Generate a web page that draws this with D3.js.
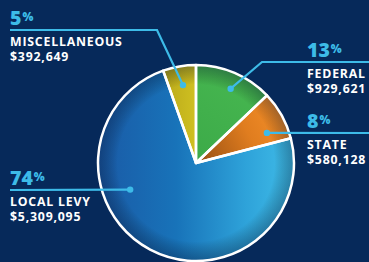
<!DOCTYPE html>
<html>
<head>
<meta charset="utf-8">
<script src="https://cdn.jsdelivr.net/npm/d3@7"></script>
<style>
  html, body { margin: 0; padding: 0; background: #06295a; }
  svg { display: block; }
  .pct { font-family: "Open Sans", sans-serif; font-weight: 800; fill: #3dbbe8; }
  .lbl { font-family: "Open Sans", sans-serif; font-weight: 700; fill: #ffffff; font-size: 12.3px; letter-spacing: 0.8px; }
</style>
</head>
<body>
<div id="chart"></div>
<script>
// revenue sources, clockwise from 12 o'clock
var categories = ["FEDERAL", "STATE", "LOCAL LEVY", "MISCELLANEOUS"];
var amounts = [929621, 580128, 5309095, 392649];
var amountLabels = ["$929,621", "$580,128", "$5,309,095", "$392,649"];
var pctLabels = ["13", "8", "74", "5"];

var width = 369, height = 262;
var cx = 196, cy = 163, radius = 98;

var svg = d3.select("#chart").append("svg")
    .attr("width", width)
    .attr("height", height);

svg.append("rect").attr("width", width).attr("height", height).attr("fill", "#06295a");

var defs = svg.append("defs");

// gradients, one per slice
function linGrad(id, x1, y1, x2, y2, stops) {
    var g = defs.append("linearGradient").attr("id", id)
        .attr("gradientUnits", "userSpaceOnUse")
        .attr("x1", x1).attr("y1", y1).attr("x2", x2).attr("y2", y2);
    stops.forEach(function(s) {
        g.append("stop").attr("offset", s[0]).attr("stop-color", s[1]);
    });
}
linGrad("g0", -10, 60, 70, -60, [[0, "#2b8a3c"], [0.45, "#3dab49"], [1, "#45b54f"]]);
linGrad("g1", 0, 10, 95, -40, [[0, "#8f4a12"], [0.6, "#e07d1f"], [1, "#f5902a"]]);
linGrad("g2", -98, 0, 98, 0, [[0, "#1a5aa6"], [0.4, "#1873b9"], [0.75, "#2ea2d9"], [1, "#40bde8"]]);
linGrad("g3", -35, 0, 0, 0, [[0, "#b9a81a"], [1, "#cfc021"]]);

var shade = defs.append("radialGradient").attr("id", "shade")
    .attr("gradientUnits", "userSpaceOnUse")
    .attr("cx", 0).attr("cy", 0).attr("r", radius);
shade.append("stop").attr("offset", 0.8).attr("stop-color", "#000").attr("stop-opacity", 0);
shade.append("stop").attr("offset", 1).attr("stop-color", "#001030").attr("stop-opacity", 0.35);

var pie = d3.pie().sort(null).value(function(d) { return d; });
var arcs = pie(amounts);
var arc = d3.arc().innerRadius(0).outerRadius(radius);

var g = svg.append("g").attr("transform", "translate(" + cx + "," + cy + ")");

g.selectAll("path.slice")
    .data(arcs)
    .enter().append("path")
    .attr("class", "slice")
    .attr("d", arc)
    .attr("fill", function(d, i) { return "url(#g" + i + ")"; });

g.append("circle").attr("r", radius).attr("fill", "url(#shade)");

g.selectAll("path.edge")
    .data(arcs)
    .enter().append("path")
    .attr("class", "edge")
    .attr("d", arc)
    .attr("fill", "none")
    .attr("stroke", "#ffffff")
    .attr("stroke-width", 2.5)
    .attr("stroke-linejoin", "round");

// callouts: dot placed inside slice, leader to label block
// anchor angle (deg from 12 o'clock), anchor radius, then label layout
var callouts = [
    { a: 25, r: 82, bend: [262, 62], end: [369, 62], tx: 307 },
    { a: 67, r: 77, bend: null, end: [369, 133], tx: 307 },
    { a: 248, r: 71, bend: null, end: [10, 190], tx: 10 },
    { a: -9.5, r: 79, bend: [157, 30], end: [10, 30], tx: 10 }
];

var color = "#3dbbe8";
callouts.forEach(function(c, i) {
    var rad = c.a * Math.PI / 180;
    var dx = cx + c.r * Math.sin(rad), dy = cy - c.r * Math.cos(rad);
    var pts = [[dx, dy]];
    if (c.bend) pts.push(c.bend);
    pts.push([c.end[0], c.end[1]]);
    svg.append("path")
        .attr("d", d3.line()(pts))
        .attr("fill", "none")
        .attr("stroke", color)
        .attr("stroke-width", 2.2);
    svg.append("circle").attr("cx", dx).attr("cy", dy).attr("r", 3.2).attr("fill", color);

    var ly = c.end[1];
    var t = svg.append("text").attr("class", "pct")
        .attr("x", c.tx).attr("y", ly - 5);
    t.append("tspan").attr("font-size", 19.5).text(pctLabels[i]);
    t.append("tspan").attr("font-size", 11.5).attr("dy", -4.5).attr("dx", 1).text("%");

    svg.append("text").attr("class", "lbl")
        .attr("x", c.tx).attr("y", ly + 15.5).text(categories[i]);
    svg.append("text").attr("class", "lbl")
        .attr("x", c.tx).attr("y", ly + 30.5).text(amountLabels[i]);
});
</script>
</body>
</html>
